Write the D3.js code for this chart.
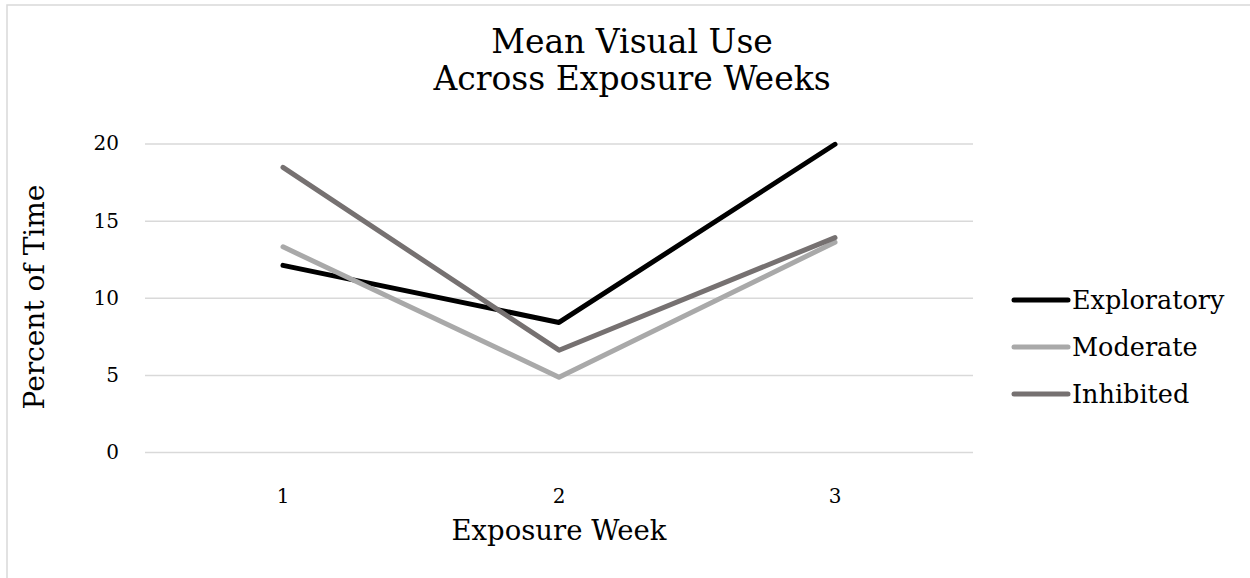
<!DOCTYPE html>
<html><head><meta charset="utf-8">
<script src="https://cdn.jsdelivr.net/npm/d3@7/dist/d3.min.js"></script>
<style>body{margin:0;background:#fff}svg{display:block}</style>
</head><body>
<svg id="chart" width="1250" height="578"></svg>
<script>
const weeks = ["1", "2", "3"];
const exploratory = [12.1, 8.4, 19.95];
const moderate = [13.3, 4.85, 13.6];
const inhibited = [18.45, 6.6, 13.9];
const seriesNames = ["Exploratory", "Moderate", "Inhibited"];
const seriesColors = ["#000000", "#a9a9a9", "#767171"];
const yTicks = [0, 5, 10, 15, 20];
const titleLines = ["Mean Visual Use", "Across Exposure Weeks"];

const series = [exploratory, moderate, inhibited].map((v, i) => ({name: seriesNames[i], color: seriesColors[i], values: v}));
const font = "DejaVu Serif, Georgia, serif";
const svg = d3.select("#chart");

svg.append("rect").attr("x", 7).attr("y", 5).attr("width", 1260).attr("height", 600)
  .attr("fill", "none").attr("stroke", "#d9d9d9").attr("stroke-width", 1.5);

const x = d3.scaleBand().domain(weeks).range([145, 973]);
const y = d3.scaleLinear().domain([0, 20]).range([452, 143.5]);

const grid = svg.append("g").attr("transform", "translate(145,0)")
  .call(d3.axisLeft(y).tickValues(yTicks).tickSize(-828).tickFormat(""));
grid.select(".domain").remove();
grid.selectAll("line").attr("stroke", "#d9d9d9").attr("stroke-width", 1.5);

const yAxis = svg.append("g").attr("transform", "translate(119,0)")
  .call(d3.axisLeft(y).tickValues(yTicks).tickSize(0).tickPadding(0));
yAxis.select(".domain").remove();
yAxis.selectAll("text").attr("font-family", font).attr("font-size", 20).attr("fill", "#000");

const xAxis = svg.append("g").attr("transform", "translate(0,489)")
  .call(d3.axisBottom(x).tickSize(0).tickPadding(0));
xAxis.select(".domain").remove();
xAxis.selectAll("text").attr("font-family", font).attr("font-size", 20).attr("fill", "#000");

const line = d3.line().x((d, i) => x(weeks[i]) + x.bandwidth() / 2).y(d => y(d));
svg.append("g").selectAll("path").data(series).join("path")
  .attr("d", d => line(d.values)).attr("fill", "none")
  .attr("stroke", d => d.color).attr("stroke-width", 5)
  .attr("stroke-linecap", "round").attr("stroke-linejoin", "round");

svg.append("text").attr("x", 632).attr("text-anchor", "middle")
  .attr("font-family", font).attr("font-size", 33).attr("fill", "#000")
  .selectAll("tspan").data(titleLines).join("tspan")
  .attr("x", 632).attr("y", (d, i) => 53 + i * 37).text(d => d);

svg.append("text").attr("x", 559).attr("y", 540).attr("text-anchor", "middle")
  .attr("font-family", font).attr("font-size", 27.5).attr("fill", "#000").text("Exposure Week");

svg.append("text").attr("transform", "translate(44,297) rotate(-90)").attr("text-anchor", "middle")
  .attr("font-family", font).attr("font-size", 28).attr("fill", "#000").text("Percent of Time");

const leg = svg.append("g").selectAll("g").data(series).join("g")
  .attr("transform", (d, i) => `translate(1014,${300 + i * 47})`);
leg.append("line").attr("x1", 0).attr("x2", 54).attr("stroke", d => d.color)
  .attr("stroke-width", 5).attr("stroke-linecap", "round");
leg.append("text").attr("x", 58).attr("dy", "0.35em").attr("font-family", font)
  .attr("font-size", 25.5).attr("fill", "#000").text(d => d.name);
</script>
</body></html>
